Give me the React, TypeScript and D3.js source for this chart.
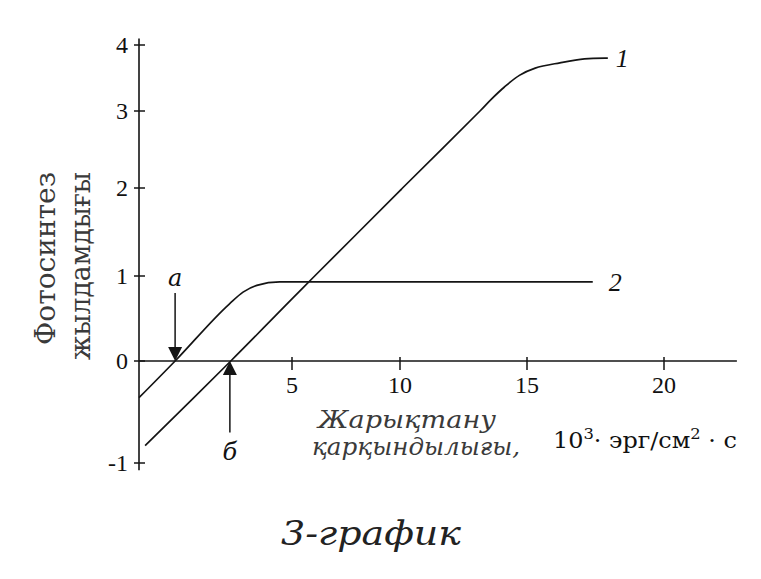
import React from "react";
import * as d3 from "d3";

// Tick values
const X_TICKS = [5, 10, 15, 20];
const Y_TICKS = [-1, 0, 1, 2, 3, 4];

// Curve 1 (light intensity vs photosynthesis rate)
const X1 = [0.2, 3.0, 5, 6.05, 10, 10.1, 13.15, 13.6, 14.1, 14.7, 15.3, 16.2, 17.1, 17.95];
const Y1 = [-0.83, 0, 0.73, 1, 1.97, 2, 3, 3.18, 3.36, 3.54, 3.65, 3.73, 3.79, 3.8];

// Curve 2
const X2 = [0, 1.18, 2.95, 3.4, 3.85, 4.6, 17.4];
const Y2 = [-0.36, 0, 0.67, 0.81, 0.89, 0.93, 0.93];

// Compensation point markers: а (down arrow), б (up arrow)
const MARK_LABELS = ["а", "б"];
const MARK_X = [1.18, 2.97];
const MARK_FROM_Y = [0.8, -0.7];
const MARK_LABEL_Y = [0.98, -0.89];

const CURVE_LABELS = ["1", "2"];

const W = 761;
const H = 579;

export default function App() {
  // Hand-drawn axes are unevenly spaced: piecewise linear scales
  const x = d3.scaleLinear().domain([0, 5, 10, 15, 20]).range([139, 292, 400, 527, 664]);
  const y = d3.scaleLinear().domain([-1, 0, 1, 2, 3, 4]).range([463, 361, 276, 188, 111, 45]);

  const line1 = d3
    .line<[number, number]>()
    .x((d) => x(d[0]))
    .y((d) => y(d[1]))
    .curve(d3.curveCatmullRom.alpha(0.5));
  const line2 = d3
    .line<[number, number]>()
    .x((d) => x(d[0]))
    .y((d) => y(d[1]))
    .curve(d3.curveMonotoneX);

  const d1 = line1(X1.map((v, i) => [v, Y1[i]] as [number, number])) || "";
  const d2 = line2(X2.map((v, i) => [v, Y2[i]] as [number, number])) || "";

  const x0 = x(0);
  const y0 = y(0);
  const xEnd = x(22.66);
  const yTop = y(4.1);
  const yBot = y(-1.07);

  const serif = "'Liberation Serif', 'Times New Roman', serif";
  const cyr = "'DejaVu Serif', serif";
  const stroke = "#141414";

  const end1 = [X1[X1.length - 1], Y1[Y1.length - 1]];
  const end2 = [X2[X2.length - 1], Y2[Y2.length - 1]];

  return (
    <svg
      width={W}
      height={H}
      style={{ position: "absolute", left: 0, top: 0, background: "#fff" }}
      fontFamily={serif}
    >
      <rect width={W} height={H} fill="#fff" />
      {/* axes */}
      <line x1={x0} x2={x0} y1={yTop} y2={yBot} stroke={stroke} strokeWidth={1.6} />
      <line x1={x0} x2={xEnd} y1={y0} y2={y0} stroke={stroke} strokeWidth={1.6} />
      {Y_TICKS.map((t) => (
        <g key={"yt" + t}>
          <line x1={x0 - 5} x2={x0 + 6} y1={y(t)} y2={y(t)} stroke={stroke} strokeWidth={1.5} />
          <text x={x0 - 11} y={y(t) + 8} textAnchor="end" fontSize={24} fill="#111">
            {t < 0 ? "-" + Math.abs(t) : String(t)}
          </text>
        </g>
      ))}
      {X_TICKS.map((t) => (
        <g key={"xt" + t}>
          <line x1={x(t)} x2={x(t)} y1={y0 - 4} y2={y0 + 9} stroke={stroke} strokeWidth={1.5} />
          <text x={x(t)} y={y0 + 32} textAnchor="middle" fontSize={24} fill="#111">
            {t}
          </text>
        </g>
      ))}

      {/* curves */}
      <path d={d1} fill="none" stroke={stroke} strokeWidth={1.7} />
      <path d={d2} fill="none" stroke={stroke} strokeWidth={1.7} />
      <text x={x(end1[0]) + 8} y={y(end1[1]) + 9} fontSize={26} fontStyle="italic" fill="#111">
        {CURVE_LABELS[0]}
      </text>
      <text x={x(end2[0]) + 16} y={y(end2[1]) + 9} fontSize={26} fontStyle="italic" fill="#111">
        {CURVE_LABELS[1]}
      </text>

      {/* markers */}
      {MARK_LABELS.map((lab, i) => {
        const mx = x(MARK_X[i]);
        const from = y(MARK_FROM_Y[i]);
        const down = MARK_FROM_Y[i] > 0;
        const hh = 14;
        const hw = 7;
        const base = down ? y0 - hh : y0 + hh;
        return (
          <g key={lab}>
            <line x1={mx} x2={mx} y1={from} y2={base} stroke={stroke} strokeWidth={1.5} />
            <path
              d={`M${mx},${y0} L${mx - hw},${base} L${mx + hw},${base} Z`}
              fill={stroke}
            />
            <text
              x={mx}
              y={y(MARK_LABEL_Y[i]) + 8}
              textAnchor="middle"
              fontSize={24}
              fontStyle="italic"
              fontFamily={cyr}
              fill="#111"
            >
              {lab}
            </text>
          </g>
        );
      })}

      {/* axis titles */}
      <g fill="#3a3a3a" fontSize={27} fontFamily={cyr}>
        <text
          transform="translate(55,345) rotate(-90)"
          textLength={173}
          lengthAdjust="spacingAndGlyphs"
        >
          Фотосинтез
        </text>
        <text
          transform="translate(90,360) rotate(-90)"
          textLength={188}
          lengthAdjust="spacingAndGlyphs"
        >
          жылдамдығы
        </text>
      </g>
      <g fill="#3a3a3a" fontSize={24} fontStyle="italic" fontFamily={cyr}>
        <text x={318} y={428} textLength={178} lengthAdjust="spacingAndGlyphs">
          Жарықтану
        </text>
        <text x={312} y={455} textLength={208} lengthAdjust="spacingAndGlyphs">
          қарқындылығы,
        </text>
      </g>
      <text
        x={553}
        y={448}
        fontSize={22}
        fill="#111"
        fontFamily={cyr}
        textLength={184}
        lengthAdjust="spacingAndGlyphs"
      >
        10
        <tspan fontSize={15} dy={-9}>3</tspan>
        <tspan dy={9}>· эрг/см</tspan>
        <tspan fontSize={15} dy={-9}>2</tspan>
        <tspan dy={9}> · с</tspan>
      </text>

      {/* caption */}
      <text
        x={281}
        y={545}
        fontSize={34}
        fontStyle="italic"
        fontFamily={cyr}
        fill="#222"
        textLength={180}
        lengthAdjust="spacingAndGlyphs"
      >
        3-график
      </text>
    </svg>
  );
}
